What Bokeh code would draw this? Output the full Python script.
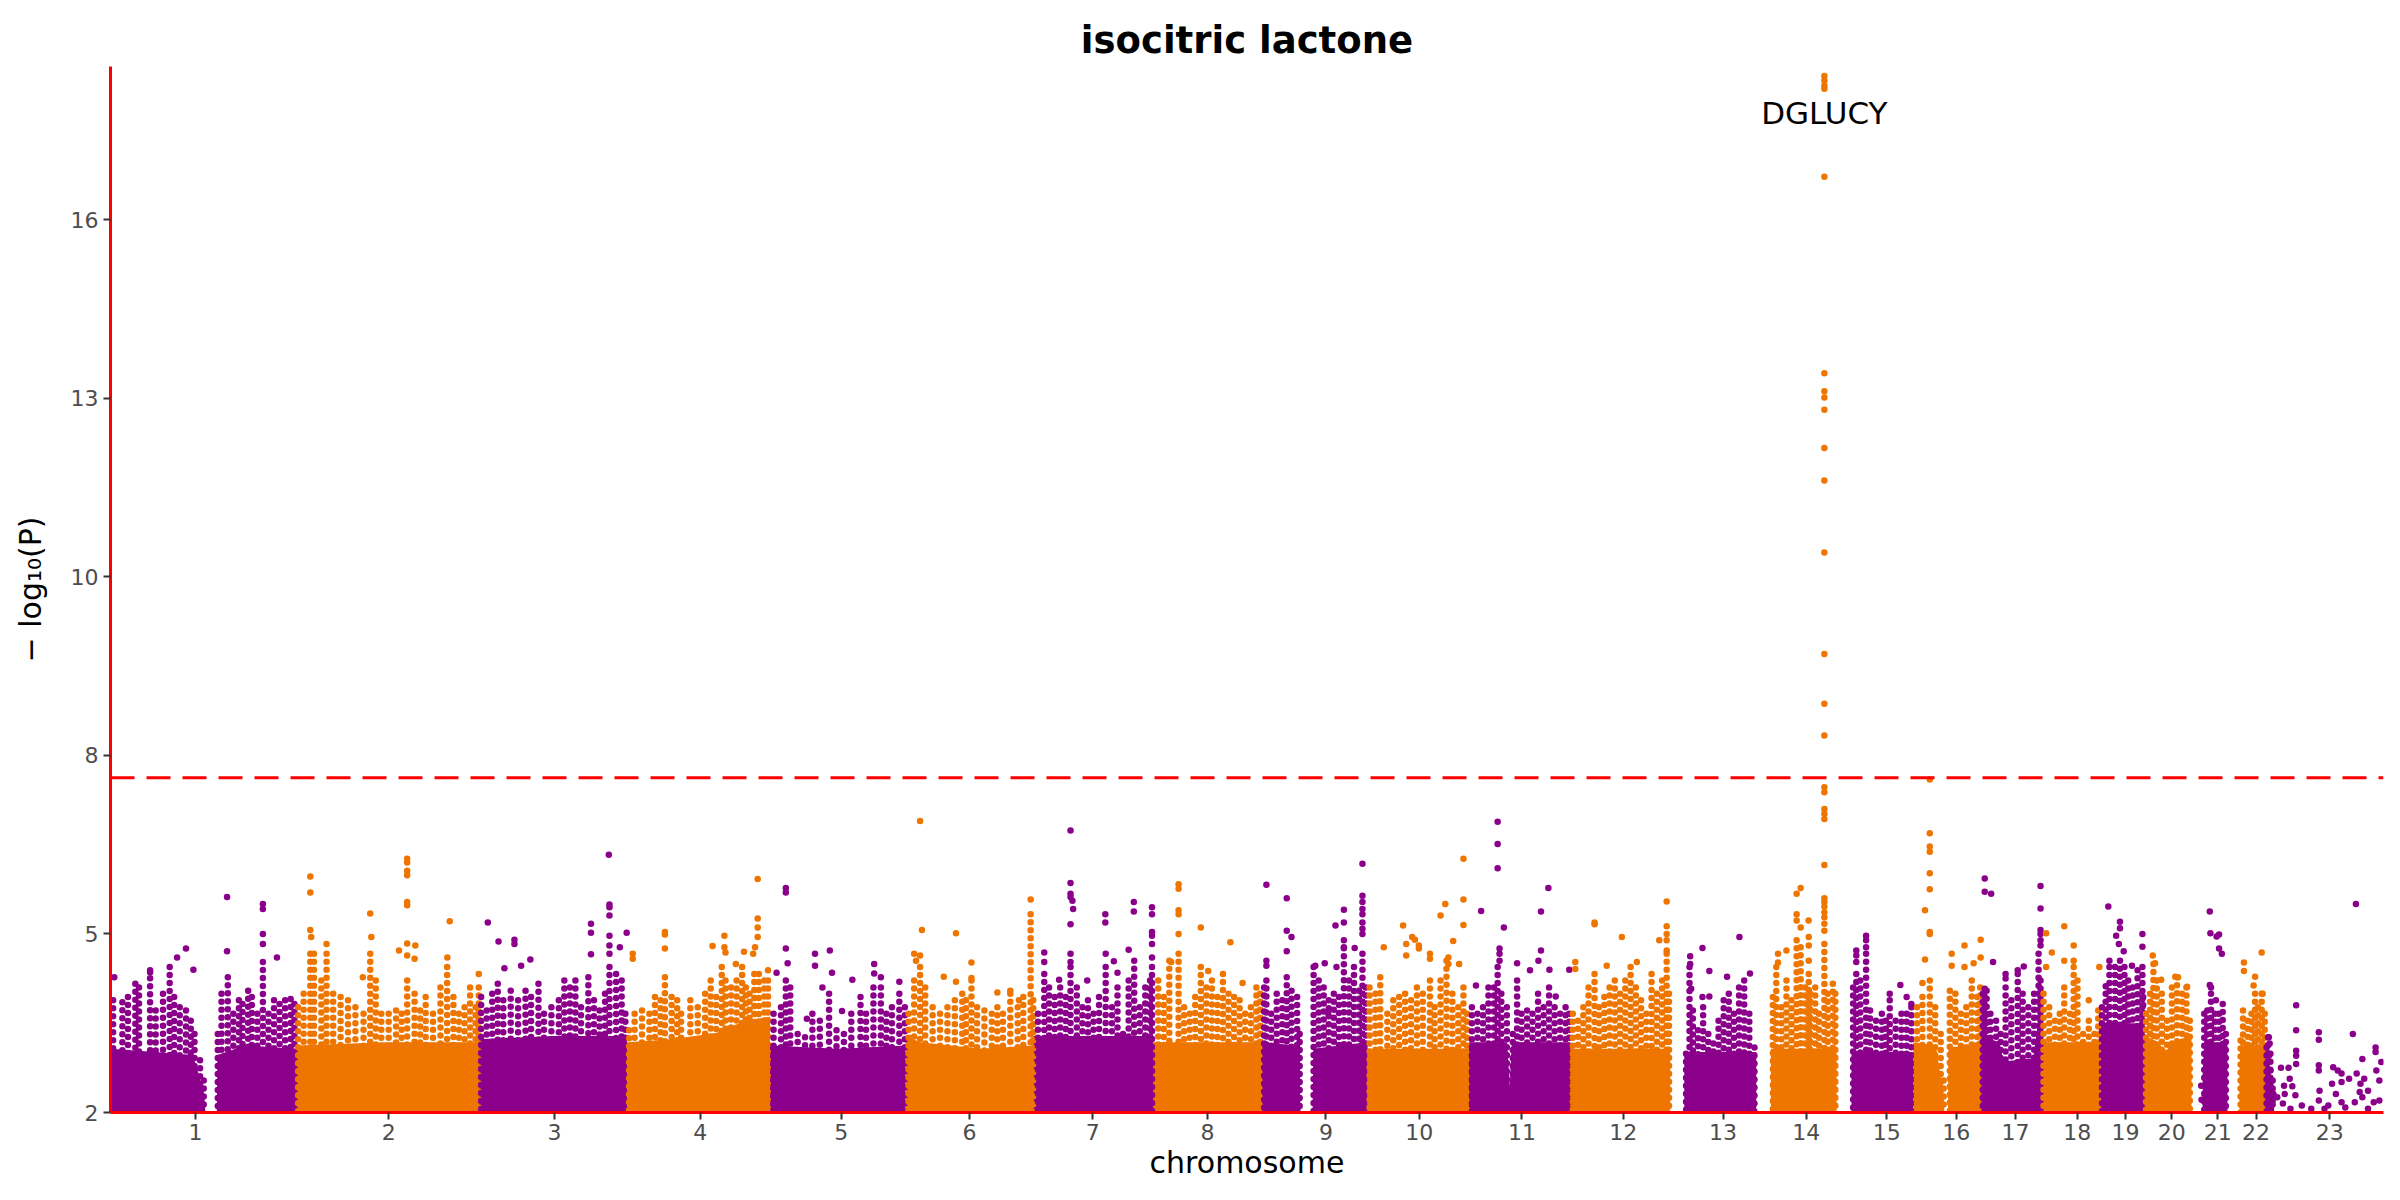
import numpy as np
from bokeh.plotting import figure
from bokeh.models import Range1d, FixedTicker, Span, ColumnDataSource
from bokeh.core.properties import value
from bokeh.embed import file_html
from bokeh.resources import INLINE

# chromosome sizes (Mb, GRCh37) and where each axis label sits inside its chromosome
chrom_labels = ["1", "2", "3", "4", "5", "6", "7", "8", "9", "10", "11", "12",
                "13", "14", "15", "16", "17", "18", "19", "20", "21", "22", "23"]
chrom_len = [249.25, 243.20, 198.02, 191.15, 180.92, 171.12, 159.14, 146.36,
             141.21, 135.53, 135.01, 133.85, 115.17, 107.35, 102.53, 90.35,
             81.20, 78.08, 59.13, 63.03, 48.13, 51.30, 155.27]
tick_mb = [113.7, 122.6, 100.9, 97.9, 95.1, 85.8, 79.2, 73.4, 85.5, 68.9, 70.8,
           71.2, 70.7, 66.8, 66.9, 57.5, 46.4, 47.7, 34.1, 36.7, 35.1, 38.3, 85.5]

ytick_vals = [2, 4.8, 7.6, 10.4, 13.2, 16]
ytick_labels = ["2", "5", "8", "10", "13", "16"]
threshold = 7.25

# lead hit
peak_gene = "DGLUCY"
peak_chrom = 14
peak_pos = 91.0
peak_label_y = 17.67
peak_vals = [18.25, 18.18, 18.10, 18.05, 16.67, 13.59, 13.31, 13.21, 13.02, 12.42,
             11.91, 10.78, 9.19, 8.41, 7.91, 7.10, 7.02, 6.76, 6.68, 6.60, 5.88,
             5.36, 5.30, 5.23, 5.14, 5.06, 4.96, 4.85]

# dense bottom cloud: outline of its solid part, per chromosome
band_pos = [
    [0, 60, 110, 118, 125, 127, 142, 143, 180, 249.2],
    [0, 120, 243.2],
    [0, 100, 198],
    [0, 60, 120, 160, 191.1],
    [0, 90, 180.9],
    [0, 20, 100, 171.1],
    [0, 159.1],
    [0, 146.3],
    [0, 47, 50, 51.5, 67.7, 68.5, 141.2],
    [0, 135.5],
    [0, 51, 54.5, 57, 135],
    [0, 133.8],
    [19, 115.1],
    [19.5, 107.3],
    [20, 102.5],
    [0, 30, 36, 40, 41.5, 46.4, 47, 90.3],
    [0, 25, 30, 70, 75, 81.2],
    [0, 78],
    [0, 59.1],
    [0, 20, 28, 35, 63],
    [15, 17, 48.1],
    [16, 17.5, 51.3],
    [0, 5, 9, 11],
]
band_top = [
    [3.0, 2.95, 2.9, 2.6, 2.3, 2.0, 2.0, 2.9, 3.05, 3.0],
    [3.05, 3.1, 3.1],
    [3.15, 3.2, 3.2],
    [3.1, 3.15, 3.25, 3.45, 3.5],
    [3.05, 3.0, 3.05],
    [3.2, 3.1, 3.0, 3.05],
    [3.2, 3.2],
    [3.1, 3.1],
    [3.1, 3.05, 2.6, 2.0, 2.0, 3.0, 3.1],
    [3.0, 3.0],
    [3.1, 3.1, 2.4, 3.1, 3.1],
    [3.0, 3.0],
    [2.95, 2.95],
    [3.0, 3.0],
    [2.95, 2.95],
    [3.1, 3.05, 2.6, 2.4, 2.0, 2.0, 3.0, 3.1],
    [3.2, 3.1, 2.8, 2.85, 3.3, 3.4],
    [3.1, 3.1],
    [3.4, 3.4],
    [3.2, 3.1, 2.9, 3.1, 3.2],
    [2.6, 3.1, 3.1],
    [2.6, 3.05, 3.05],
    [2.85, 2.75, 2.4, 2.05],
]

# tight stacks of SNPs (LD blocks): position and height reached
col_pos = [
    [3.5, 15.9, 23.3, 33.2, 38.1, 52.9, 60.4, 70.2, 79.1, 85.1, 92.5, 100.9, 107.3, 112.3, 119.7, 124.6,
     143.4, 148.4, 156.8, 164.2, 171.6, 176.5, 184.0, 188.9, 196.3, 203.7, 211.2, 218.6, 226.0, 233.4, 240.8, 245.8],
    [1.5, 8.9, 17.8, 22.7, 32.6, 39.5, 48.4, 58.3, 68.2, 78.1, 89.0, 97.9, 105.3, 112.7, 122.6, 132.5,
     139.9, 147.3, 157.2, 164.6, 172.0, 181.9, 191.8, 200.7, 209.1, 216.5, 224.0, 231.4, 238.8, 243.0],
    [3.0, 10.4, 17.8, 25.2, 32.6, 42.5, 52.4, 62.3, 69.7, 79.6, 87.0, 96.9, 106.8, 114.2, 121.6, 129.0,
     136.5, 146.3, 153.8, 161.2, 168.6, 174.5, 183.4, 190.8, 195.8],
    [2.7, 10.1, 20.0, 29.9, 37.3, 44.7, 50.6, 59.6, 67.0, 72.2, 84.6, 94.5, 104.4, 111.8, 119.2, 126.6,
     131.6, 139.0, 146.4, 153.8, 158.8, 163.7, 170.1, 176.1, 183.5, 188.4],
    [4.7, 14.6, 21.1, 27.0, 36.9, 46.8, 56.6, 66.5, 78.9, 88.8, 98.7, 108.6, 120.9, 128.3, 138.2, 148.1,
     155.5, 162.9, 172.8, 180.2],
    [4.3, 11.7, 19.6, 26.5, 36.4, 46.3, 56.2, 66.1, 76.0, 80.9, 88.3, 95.8, 105.6, 115.5, 122.9, 130.4,
     140.2, 150.1, 157.6, 167.4, 170.9],
    [6.1, 14.5, 20.9, 28.4, 35.8, 43.2, 49.6, 58.0, 65.5, 72.9, 80.3, 87.7, 96.6, 105.0, 112.4, 119.8,
     127.3, 134.7, 142.1, 149.5, 155.9, 158.5],
    [7.7, 15.1, 22.5, 34.9, 42.3, 49.7, 57.1, 64.6, 72.0, 79.4, 86.8, 94.2, 101.6, 109.1, 116.5, 123.9,
     131.5, 138.9, 143.9],
    [2.9, 5.9, 12.3, 19.7, 27.2, 33.1, 39.5, 47.0, 50.4, 69.0, 75.8, 82.5, 89.3, 96.0, 102.8, 109.5,
     116.3, 123.0, 129.8, 134.3, 138.8],
    [2.6, 10.5, 16.9, 26.4, 34.3, 42.2, 50.1, 58.0, 65.9, 73.8, 83.3, 89.6, 97.5, 105.4, 113.3, 121.2,
     128.1, 132.8],
    [3.9, 11.3, 18.7, 26.0, 33.4, 38.3, 43.2, 50.6, 58.5, 64.3, 70.2, 77.6, 84.9, 92.3, 99.7, 107.0,
     114.4, 121.8, 129.1, 134.0],
    [3.7, 10.8, 17.8, 24.8, 32.8, 38.8, 45.9, 52.9, 59.9, 66.9, 73.9, 81.0, 88.0, 95.0, 102.0, 109.0,
     116.1, 123.1, 129.2, 132.4],
    [21.3, 25.9, 30.4, 37.3, 44.1, 51.0, 57.8, 64.7, 71.6, 78.4, 85.3, 92.1, 99.0, 105.8, 112.7],
    [22.2, 26.7, 33.5, 40.3, 47.1, 53.9, 59.3, 65.3, 70.1, 72.1, 78.8, 83.9, 91.0, 95.5, 102.3, 105.6],
    [22.1, 26.3, 31.6, 39.4, 44.7, 52.6, 60.5, 65.7, 71.0, 78.9, 86.7, 93.6, 99.9],
    [4.9, 12.2, 22.0, 29.3, 36.6, 40.5, 48.8, 56.2, 63.5, 70.8, 78.1, 85.5, 89.4],
    [2.5, 5.1, 7.6, 12.7, 20.3, 26.4, 33.0, 40.6, 49.2, 55.8, 63.4, 71.1, 77.1, 79.7],
    [2.5, 10.1, 17.6, 24.2, 30.2, 37.8, 42.8, 47.9, 55.4, 63.0, 70.5, 75.6],
    [2.5, 7.5, 12.5, 20.0, 26.6, 32.6, 37.6, 43.6, 50.1, 56.6, 57.6],
    [2.3, 7.7, 12.2, 16.7, 23.4, 30.2, 36.9, 43.7, 50.4, 56.3, 60.8],
    [17.1, 21.2, 26.1, 31.5, 36.9, 41.8, 45.9],
    [17.6, 20.8, 26.9, 32.1, 36.9, 40.9, 45.7, 49.8],
    [1.0, 3.0, 6.1, 9.1],
]
col_top = [
    [3.76, 3.73, 3.81, 4.02, 3.96, 4.23, 3.60, 3.86, 4.28, 3.81, 3.65, 3.60, 3.44, 3.23, 2.82, 2.50,
     3.23, 3.86, 4.12, 3.55, 3.76, 3.70, 3.91, 3.81, 3.55, 4.36, 3.55, 3.76, 3.70, 3.76, 3.78, 3.70],
    [3.65, 3.86, 4.49, 4.49, 4.07, 4.49, 3.86, 3.81, 3.76, 3.65, 3.55, 4.49, 4.07, 3.55, 3.55, 3.60,
     3.55, 4.07, 3.86, 3.60, 3.81, 3.55, 3.96, 4.28, 3.81, 3.55, 3.65, 3.96, 3.65, 3.96],
    [3.81, 3.60, 3.86, 4.02, 3.76, 3.91, 3.76, 3.91, 3.81, 4.02, 3.55, 3.65, 3.76, 4.07, 3.96, 4.07,
     3.65, 4.12, 3.76, 3.60, 3.86, 4.28, 4.17, 4.07, 3.55],
    [3.29, 3.55, 3.60, 3.55, 3.81, 3.76, 4.12, 3.81, 3.76, 3.55, 3.76, 3.65, 3.86, 4.07, 3.81, 4.28,
     4.07, 3.96, 4.07, 4.28, 3.96, 3.86, 4.17, 4.17, 4.07, 4.07],
    [3.55, 3.65, 4.07, 3.96, 3.23, 3.18, 3.55, 3.44, 3.86, 3.29, 3.23, 3.55, 3.81, 3.55, 3.96, 3.96,
     3.55, 3.65, 3.86, 3.65],
    [3.55, 4.07, 4.28, 3.96, 3.65, 3.55, 3.65, 3.76, 3.86, 3.76, 4.07, 3.65, 3.60, 3.55, 3.65, 3.55,
     3.86, 3.65, 3.81, 5.11, 3.76],
    [3.55, 4.17, 3.96, 3.81, 3.96, 3.81, 4.28, 3.96, 3.65, 3.76, 3.55, 3.81, 4.28, 3.65, 3.96, 3.23,
     4.07, 4.38, 3.65, 3.96, 4.07, 4.28],
    [4.07, 3.81, 4.38, 4.49, 3.65, 3.55, 3.81, 4.28, 3.96, 4.07, 3.81, 4.17, 3.86, 3.81, 3.76, 3.55,
     3.65, 3.96, 3.86],
    [3.96, 4.07, 3.55, 3.86, 3.76, 4.12, 3.91, 3.81, 3.23, 4.28, 4.07, 3.96, 3.76, 3.86, 3.81, 4.70,
     4.07, 4.28, 3.91, 4.49, 3.96],
    [3.96, 3.86, 4.12, 3.55, 3.76, 3.81, 3.86, 3.76, 3.96, 3.86, 4.07, 3.65, 4.07, 4.38, 3.86, 3.65,
     3.96, 3.55],
    [3.65, 3.55, 3.65, 3.96, 3.96, 4.28, 3.86, 3.65, 3.23, 4.07, 3.55, 3.60, 3.55, 3.86, 3.65, 3.96,
     3.65, 3.55, 3.65, 3.55],
    [3.55, 3.44, 3.65, 3.96, 4.17, 3.65, 3.81, 3.96, 4.07, 3.86, 4.07, 4.28, 3.96, 3.76, 3.55, 4.17,
     3.86, 4.07, 4.49, 3.86],
    [2.92, 4.28, 3.60, 3.29, 3.65, 3.23, 3.08, 3.44, 3.76, 3.86, 3.55, 3.96, 4.07, 3.55, 3.02],
    [3.81, 4.28, 3.65, 4.07, 3.76, 4.70, 4.59, 3.96, 4.17, 3.86, 3.96, 3.55, 4.64, 3.86, 4.02, 3.86],
    [3.96, 4.17, 4.07, 4.49, 3.60, 3.44, 3.55, 3.44, 3.76, 3.44, 3.55, 3.55, 3.65],
    [3.65, 3.81, 4.07, 3.65, 3.23, 2.50, 3.91, 3.86, 3.55, 3.65, 4.07, 3.81, 3.96],
    [3.86, 3.94, 3.91, 3.55, 3.44, 3.23, 3.96, 3.76, 4.17, 3.86, 3.65, 3.86, 4.49, 4.07],
    [3.86, 3.65, 3.44, 3.55, 3.96, 3.55, 4.28, 4.07, 3.23, 3.44, 3.23, 3.60],
    [3.65, 3.86, 4.28, 4.28, 4.38, 4.28, 4.07, 3.96, 4.23, 4.28, 3.81],
    [3.55, 3.86, 4.33, 4.07, 3.86, 3.44, 3.96, 4.12, 3.86, 3.96, 3.44],
    [3.55, 3.60, 3.86, 3.55, 3.55, 3.70, 3.23],
    [3.13, 3.60, 3.44, 3.55, 3.86, 3.65, 3.86, 3.55],
    [3.02, 3.18, 2.92, 2.50],
]

# single SNPs standing clear of the cloud
pt_pos = [
    [5.0, 52.9, 89.0, 100.9, 110.8, 155.8, 155.8, 203.7, 203.7, 203.7, 203.7, 222.5],
    [17.8, 17.8, 17.8, 19.0, 39.5, 97.9, 99.4, 88.0, 136.4, 147.3, 147.3, 147.3, 147.3, 147.3, 147.3,
     147.3, 147.3, 158.2, 157.2, 204.2, 201.0, 243.0],
    [11.9, 26.2, 47.5, 47.5, 34.1, 56.4, 68.7, 149.8, 149.8, 149.8, 173.6, 174.5, 174.5, 174.5, 174.5,
     174.5, 174.5, 197.5, 188.4],
    [7.6, 7.6, 50.6, 50.6, 50.6, 114.3, 130.1, 130.1, 131.6, 145.4, 156.3, 174.6, 174.6, 174.6, 174.6,
     171.1, 168.6, 188.4],
    [21.1, 21.1, 21.1, 23.5, 8.7, 60.1, 60.1, 79.9, 82.8, 70.0, 110.0, 139.2, 139.2, 148.1, 172.8,
     96.2, 49.2],
    [19.6, 22.1, 11.7, 14.2, 19.6, 51.3, 67.6, 67.6, 88.3, 88.3, 122.9, 140.2, 167.4, 151.6],
    [49.6, 49.6, 49.6, 49.6, 52.1, 53.1, 49.6, 49.6, 49.6, 34.3, 14.5, 14.5, 71.9, 96.1, 96.1, 96.6,
     107.5, 112.4, 134.2, 134.2, 127.3, 158.5, 158.5, 158.5, 158.5, 158.5, 158.5],
    [34.9, 34.9, 34.9, 34.9, 34.9, 25.0, 64.6, 74.5, 104.1, 120.4],
    [5.9, 5.9, 5.9, 33.1, 33.1, 33.1, 39.5, 71.3, 83.9, 88.4, 98.3, 99.6, 109.5, 109.5, 109.5, 123.9,
     134.3, 134.3, 134.3, 134.3, 134.3, 134.3, 134.3, 134.3],
    [47.4, 51.6, 51.6, 59.6, 63.2, 68.5, 68.5, 21.6, 83.3, 83.3, 97.5, 103.8, 114.4, 122.3, 128.1,
     128.1, 128.1, 108.0, 108.0],
    [38.3, 38.3, 38.3, 46.6, 16.2, 40.8, 40.8, 40.8, 9.3, 64.3, 81.5, 92.8, 96.2, 96.2, 106.1, 107.5,
     115.9, 134.0],
    [7.0, 7.0, 32.8, 32.8, 49.1, 69.3, 89.4, 119.3, 129.2, 129.2, 129.2, 129.2, 129.2],
    [26.8, 26.8, 28.1, 43.2, 52.4, 43.2, 52.4, 92.6, 106.7, 76.1],
    [53.9, 59.3, 53.9, 53.9, 29.0, 29.0, 40.3, 69.9, 59.3, 70.1, 70.1, 70.1],
    [26.3, 26.3, 26.3, 39.4, 39.4, 39.4, 85.2, 71.0, 93.6, 99.9],
    [22.0, 22.0, 22.0, 22.0, 22.0, 22.0, 15.6, 22.0, 22.0, 15.6, 12.2, 51.3, 51.3, 68.4, 68.4, 80.6,
     90.0, 90.0],
    [5.1, 5.1, 13.7, 16.2, 33.0, 33.0, 49.2, 57.3, 79.7, 79.7, 79.7, 79.7, 79.7, 79.7],
    [6.0, 6.0, 13.6, 30.2, 30.2, 42.8, 42.8, 63.0, 77.1],
    [11.0, 26.6, 26.6, 21.5, 25.1, 31.6, 12.5, 56.6, 56.6, 42.6, 7.5],
    [11.3, 14.4, 22.5, 41.4, 45.0, 57.2],
    [24.5, 25.3, 33.6, 36.9, 36.9, 40.6, 24.5, 26.1, 32.7, 13.0, 13.5],
    [22.0, 22.0, 45.7, 36.9, 34.9, 47.0],
    [4.0, 5.1, 4.0, 6.1, 6.1, 10.1, 9.1, 20.2, 30.3, 31.9, 24.3, 35.4, 25.3, 40.5, 40.5, 40.5, 40.5,
     40.5, 39.5, 48.1, 70.8, 70.8, 70.8, 70.8, 71.8, 70.8, 90.0, 96.1, 101.2, 101.2, 88.5, 111.3, 93.6,
     83.5, 101.2, 116.3, 120.4, 129.0, 121.4, 131.5, 126.5, 125.4, 136.6, 146.7, 146.7, 147.7, 151.7,
     154.3, 129.0, 144.2, 136.6, 15.2, 60.7, 78.4, 106.2, 118.9, 151.7, 32.9, 22.8],
]
pt_val = [
    [4.12, 4.20, 4.43, 4.57, 4.24, 5.38, 4.53, 5.27, 5.19, 4.80, 4.64, 4.43],
    [5.70, 5.45, 4.86, 4.75, 4.64, 5.12, 4.75, 4.12, 4.54, 5.98, 5.92, 5.79, 5.72, 5.30, 5.25,
     4.65, 4.46, 4.62, 4.41, 5.00, 4.43, 4.17],
    [4.98, 4.68, 4.71, 4.64, 4.26, 4.30, 4.40, 4.96, 4.82, 4.48, 6.04, 5.26, 5.22, 5.09, 4.77,
     4.62, 4.49, 4.82, 4.59],
    [4.49, 4.41, 4.83, 4.79, 4.57, 4.61, 4.77, 4.59, 4.51, 4.33, 4.52, 5.66, 5.04, 4.90, 4.75,
     4.59, 4.49, 4.23],
    [5.52, 5.45, 4.57, 4.34, 4.19, 4.49, 4.30, 4.54, 4.19, 3.96, 4.08, 4.33, 4.18, 4.12, 4.05,
     3.59, 3.47],
    [6.57, 4.86, 4.49, 4.38, 4.46, 4.13, 4.81, 4.05, 4.35, 4.11, 3.88, 3.91, 5.34, 3.76],
    [6.42, 5.60, 5.43, 5.38, 5.32, 5.19, 4.95, 4.49, 4.36, 4.08, 4.51, 4.36, 4.07, 5.11, 4.98, 4.49,
     4.37, 4.19, 5.30, 5.15, 4.55, 5.22, 5.11, 4.83, 4.77, 4.64, 4.43],
    [5.58, 5.51, 5.17, 5.11, 4.80, 4.36, 4.90, 4.22, 4.67, 4.03],
    [5.57, 4.38, 4.30, 5.36, 4.85, 4.53, 4.75, 4.30, 4.34, 3.56, 4.93, 4.28, 5.18, 4.98, 4.59, 4.58,
     5.90, 5.40, 5.30, 5.19, 5.11, 4.98, 4.88, 4.80],
    [4.93, 4.64, 4.46, 4.75, 4.71, 4.62, 4.57, 4.59, 4.49, 4.41, 5.09, 5.27, 4.69, 4.33, 5.98,
     5.34, 4.94, 4.43, 4.33],
    [6.56, 6.21, 5.83, 4.90, 5.16, 4.57, 4.49, 4.38, 3.99, 4.34, 4.23, 4.38, 5.15, 4.54, 5.52, 4.24,
     3.82, 4.24],
    [4.36, 4.25, 4.98, 4.95, 4.30, 4.75, 4.36, 4.70, 5.31, 4.92, 4.80, 4.70, 4.54],
    [4.45, 4.33, 3.94, 4.58, 4.22, 3.81, 3.82, 4.75, 4.18, 4.13],
    [5.43, 5.52, 5.11, 5.01, 4.49, 4.35, 4.54, 5.01, 4.90, 4.75, 4.62, 4.38],
    [4.54, 4.46, 4.36, 4.77, 4.70, 4.59, 4.00, 3.86, 3.81, 3.70],
    [7.22, 6.38, 6.17, 6.09, 5.75, 5.50, 5.17, 4.83, 4.80, 4.40, 4.03, 4.49, 4.30, 4.62, 4.28, 4.34,
     4.71, 4.43],
    [5.67, 5.46, 5.43, 4.36, 4.17, 4.10, 4.23, 4.29, 5.55, 5.20, 4.86, 4.80, 4.70, 4.62],
    [4.81, 4.28, 4.51, 4.92, 4.38, 4.62, 4.38, 3.76, 4.28],
    [5.23, 4.99, 4.89, 4.77, 4.64, 4.53, 4.38, 4.80, 4.60, 4.30, 3.98],
    [4.46, 4.34, 4.08, 4.13, 4.12, 3.97],
    [5.15, 4.81, 4.76, 4.79, 4.57, 4.49, 4.00, 3.96, 3.76, 2.42, 2.20],
    [4.35, 4.22, 4.51, 4.13, 3.99, 3.86],
    [3.18, 3.08, 2.89, 2.66, 2.48, 2.29, 2.19, 2.70, 2.70, 2.53, 2.42, 2.41, 2.29, 3.68, 3.29, 2.97,
     2.89, 2.76, 2.27, 2.11, 3.26, 3.14, 2.74, 2.66, 2.34, 2.19, 2.71, 2.66, 2.61, 2.48, 2.45, 2.53,
     2.29, 2.11, 2.16, 3.23, 5.27, 2.84, 2.61, 2.53, 2.45, 2.32, 2.34, 3.02, 2.95, 2.66, 2.50, 2.79,
     2.24, 2.16, 2.06, 2.24, 2.06, 2.06, 2.08, 2.16, 2.19, 2.06, 2.14],
]

PURPLE = "#8B008B"
ORANGE = "#EE7600"
palette = [PURPLE, ORANGE]
FONT = "DejaVu Sans"

starts = np.concatenate([[0.0], np.cumsum(chrom_len)[:-1]])
total = float(np.sum(chrom_len))

p = figure(
    width=2396, height=1196,
    x_range=Range1d(0, total + 2), y_range=Range1d(2, 18.4),
    output_backend="svg", toolbar_location=None,
    min_border_left=110, min_border_right=13, min_border_top=66, min_border_bottom=84,
)
p.title.text = "isocitric lactone"
p.title.align = "center"
p.title.text_font = FONT
p.title.text_font_size = "37px"
p.title.text_font_style = "bold"
p.title.text_color = "black"

# columns / points gathered across chromosomes
cx, ctop, ccol = [], [], []
px, pv, pcol = [], [], []
for i in range(len(chrom_len)):
    colr = palette[i % 2]
    off = starts[i]
    p.varea(x=[off + b for b in band_pos[i]], y1=2, y2=band_top[i],
            fill_color=colr)
    for pos, top in zip(col_pos[i], col_top[i], strict=True):
        cx.append(off + pos)
        ctop.append(top)
        ccol.append(colr)
    for pos, v in zip(pt_pos[i], pt_val[i], strict=True):
        px.append(off + pos)
        pv.append(v)
        pcol.append(colr)

peak_x = starts[peak_chrom - 1] + peak_pos
for v in peak_vals:
    px.append(peak_x)
    pv.append(v)
    pcol.append(palette[(peak_chrom - 1) % 2])

# each stack is drawn top-down as a chain of dots
col_src = ColumnDataSource(dict(x=cx, top=ctop, color=ccol))
p.segment(x0="x", y0="top", x1="x", y1=2, source=col_src, line_color="color",
          line_width=6.5, line_cap="round", line_dash=value("0 8"))

pt_src = ColumnDataSource(dict(x=px, y=pv, color=pcol))
p.scatter(x="x", y="y", source=pt_src, size=6.5, fill_color="color", line_color=None)

p.add_layout(Span(location=threshold, dimension="width", line_color="#FF0000",
                  line_width=3, line_dash="24 12"))

p.text(x=[peak_x], y=[peak_label_y], text=[peak_gene], text_align="center",
       text_baseline="middle", text_font=value(FONT), text_font_size="31px",
       text_color="black")

# axes
xticks = [round(float(starts[i] + tick_mb[i]), 3) for i in range(len(chrom_len))]
p.xaxis.ticker = FixedTicker(ticks=xticks)
p.xaxis.major_label_overrides = {t: lab for t, lab in zip(xticks, chrom_labels)}
p.yaxis.ticker = FixedTicker(ticks=ytick_vals)
p.yaxis.major_label_overrides = {t: lab for t, lab in zip(ytick_vals, ytick_labels)}
p.xaxis.axis_label = "chromosome"
p.yaxis.axis_label = "\u2212 log\u2081\u2080(P)"

for ax in (p.xaxis, p.yaxis):
    ax.axis_line_color = "#FF0000"
    ax.axis_line_width = 3
    ax.major_tick_line_color = "#333333"
    ax.major_tick_line_width = 2
    ax.major_tick_out = 7
    ax.major_tick_in = 0
    ax.minor_tick_line_color = None
    ax.major_label_text_font = FONT
    ax.major_label_text_font_size = "22px"
    ax.major_label_text_color = "#4D4D4D"
    ax.axis_label_text_font = FONT
    ax.axis_label_text_font_size = "30px"
    ax.axis_label_text_font_style = "normal"
    ax.axis_label_text_color = "black"

p.xaxis.major_label_standoff = 4
p.xaxis.axis_label_standoff = 2
p.yaxis.axis_label_standoff = 20

p.grid.visible = False
p.outline_line_color = None
p.background_fill_color = "white"

open("out.html", "w").write(file_html(p, INLINE))
